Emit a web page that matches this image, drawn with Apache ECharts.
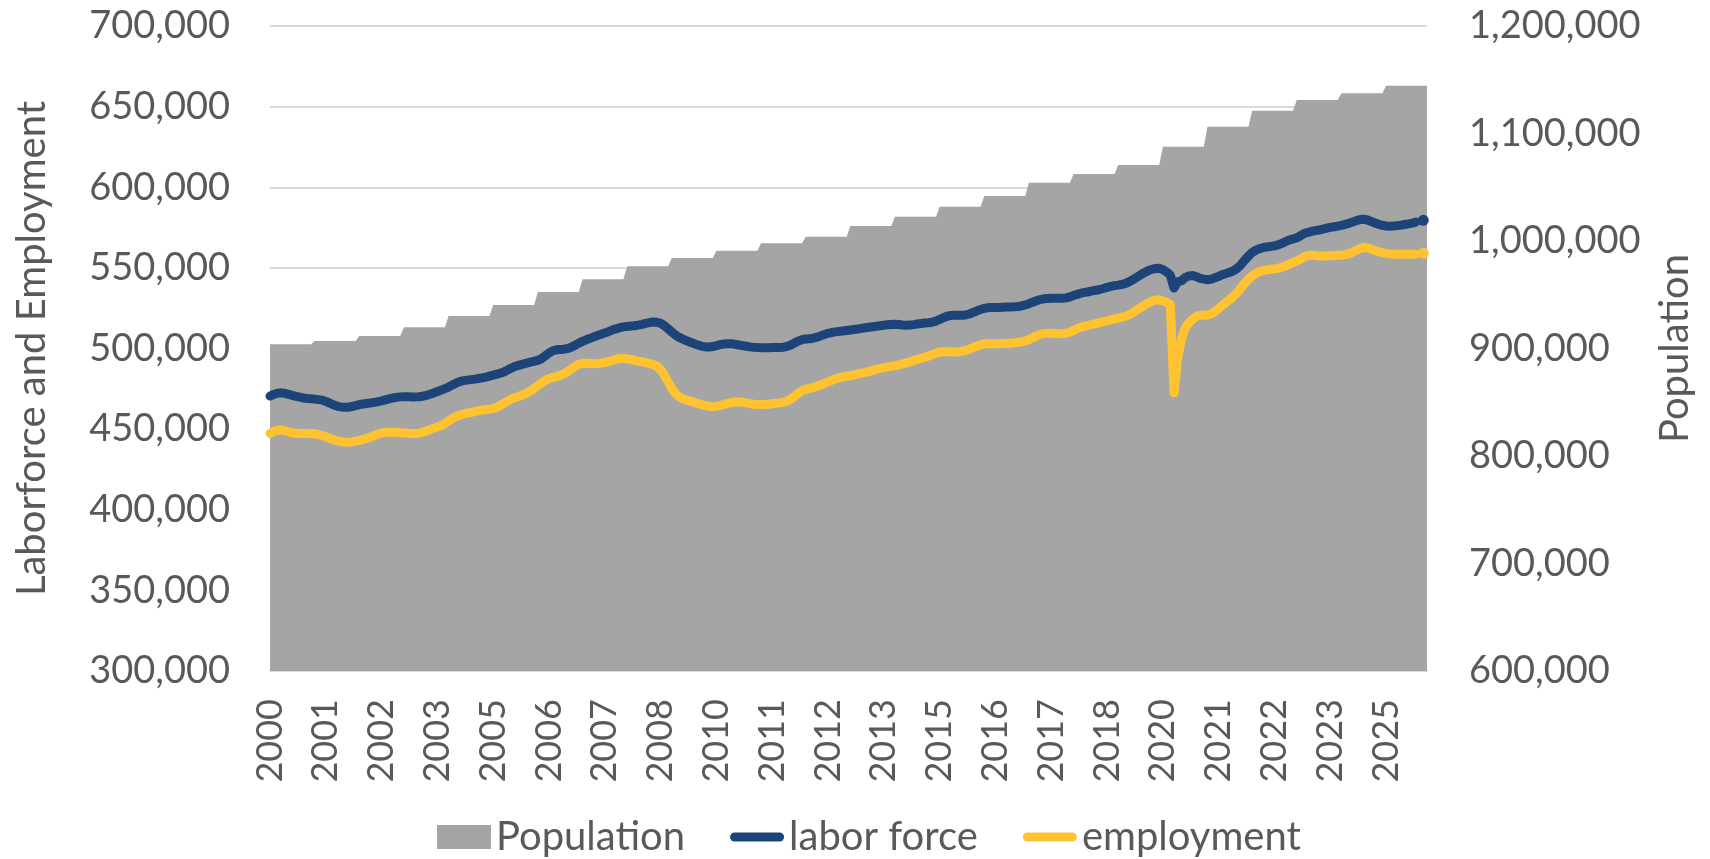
<!DOCTYPE html>
<html>
<head>
<meta charset="utf-8">
<title>Population, labor force and employment</title>
<script src="https://cdn.jsdelivr.net/npm/echarts@6/dist/echarts.min.js"></script>
<style>
  html, body { margin: 0; padding: 0; background: #ffffff; }
  #chart-container { width: 1710px; height: 859px; }
</style>
</head>
<body>
<div id="chart-container"></div>
<script>
// years on the axis, one category per month
var years = [2000, 2001, 2002, 2003, 2004, 2005, 2006, 2007, 2008, 2009, 2010, 2011, 2012,
  2013, 2014, 2015, 2016, 2017, 2018, 2019, 2020, 2021, 2022, 2023, 2024, 2025];

// annual population (right axis)
var populationByYear = [903900, 907000, 911600, 919700, 930200, 940500, 952600, 964400, 976500,
  984200, 991000, 997900, 1004000, 1014000, 1022600, 1031900, 1041900, 1054200, 1062300,
  1070700, 1087700, 1106300, 1121200, 1131200, 1137400, 1144500];

// monthly labor force, Jan 2000 - Dec 2025 (Oct 2025 missing)
var laborForce = [
  470500, 471500, 472300, 472500, 472200, 471600, 470900, 470300, 469800, 469300, 469000, 468800,
  468600, 468300, 468000, 467200, 466200, 465100, 464300, 463800, 463500, 463600, 464000, 464600,
  465200, 465600, 465900, 466200, 466600, 467000, 467500, 468100, 468700, 469300, 469700, 470000,
  470100, 470100, 470000, 470000, 470100, 470400, 470900, 471600, 472400, 473300, 474200, 475100,
  476100, 477300, 478500, 479500, 480100, 480400, 480700, 481000, 481400, 481800, 482300, 482900,
  483500, 484100, 484700, 485600, 486800, 488000, 489000, 489700, 490300, 490900, 491500, 492100,
  492600, 493700, 495400, 497200, 498600, 499200, 499400, 499600, 500000, 500800, 502000, 503300,
  504400, 505400, 506300, 507200, 508000, 508800, 509600, 510500, 511400, 512200, 512900, 513400,
  513700, 513900, 514100, 514500, 515000, 515600, 516100, 516400, 516300, 515600, 514200, 512300,
  510200, 508300, 506900, 505800, 504800, 503900, 503000, 502200, 501500, 501000, 500900, 501200,
  501800, 502400, 502800, 503000, 502900, 502600, 502200, 501800, 501400, 501000, 500700, 500600,
  500500, 500500, 500500, 500600, 500600, 500600, 500800, 501300, 502200, 503400, 504700, 505500,
  505900, 506100, 506400, 507000, 507800, 508700, 509400, 509900, 510300, 510600, 510900, 511200,
  511500, 511800, 512100, 512500, 512900, 513200, 513500, 513800, 514100, 514400, 514700, 514900,
  515000, 514900, 514600, 514400, 514500, 514800, 515200, 515500, 515800, 516000, 516300, 517000,
  518000, 519100, 520000, 520500, 520600, 520600, 520600, 520800, 521400, 522300, 523300, 524200,
  524900, 525300, 525500, 525500, 525500, 525600, 525700, 525800, 525900, 526100, 526400, 527000,
  527800, 528700, 529600, 530300, 530800, 531000, 531100, 531100, 531100, 531200, 531400, 532000,
  532800, 533600, 534300, 534800, 535200, 535700, 536100, 536600, 537200, 537900, 538500, 539000,
  539300, 539700, 540400, 541500, 542800, 544200, 545600, 547000, 548200, 549100, 549600, 549700,
  549000, 547500, 545500, 537500, 541500, 542000, 544000, 545000, 545300, 544500, 543500, 543000,
  542600, 543000, 543800, 544800, 545800, 546500, 547300, 548200, 549800, 552000, 554800, 557300,
  559500, 561000, 562000, 562600, 563000, 563300, 563700, 564300, 565200, 566300, 567300, 568000,
  568600, 570000, 571300, 572000, 572600, 573100, 573500, 574000, 574600, 575100, 575500, 575900,
  576400, 577000, 577600, 578400, 579300, 580000, 580200, 579700, 578800, 577800, 577000, 576400,
  576000, 575800, 575900, 576200, 576500, 576900, 577300, 577800, 578400, null, 579500, null
];

// monthly employment, Jan 2000 - Dec 2025 (Oct 2025 missing)
var employment = [
  447300, 448500, 449300, 449400, 449000, 448300, 447700, 447400, 447300, 447300, 447300, 447200,
  447100, 446700, 446000, 445200, 444300, 443500, 442800, 442300, 442000, 441900, 442100, 442500,
  443000, 443600, 444300, 445100, 446000, 446800, 447500, 447900, 448100, 448100, 448000, 447800,
  447600, 447400, 447300, 447300, 447500, 448000, 448800, 449700, 450600, 451400, 452300, 453500,
  455000, 456500, 457800, 458700, 459400, 459900, 460400, 460900, 461400, 461900, 462200, 462400,
  462800, 463600, 464800, 466200, 467600, 468800, 469600, 470400, 471300, 472400, 473700, 475200,
  476900, 478600, 480200, 481400, 482100, 482600, 483300, 484300, 485700, 487300, 488900, 490200,
  490800, 490900, 490700, 490600, 490700, 490900, 491300, 491900, 492600, 493300, 493800, 493800,
  493600, 493200, 492700, 492200, 491800, 491300, 490600, 490000, 489000, 486800, 483500, 479300,
  475300, 472000, 470000, 468800, 468000, 467300, 466600, 465900, 465200, 464600, 464100, 463900,
  464100, 464600, 465300, 466000, 466500, 466800, 466900, 466700, 466300, 465900, 465400, 465200,
  465100, 465200, 465400, 465700, 466000, 466300, 466700, 467400, 468600, 470300, 472200, 473800,
  474700, 475300, 475900, 476600, 477400, 478300, 479300, 480300, 481200, 481900, 482400, 482800,
  483200, 483700, 484200, 484700, 485200, 485800, 486400, 487000, 487600, 488200, 488600, 488900,
  489300, 489800, 490400, 491100, 491800, 492500, 493200, 493800, 494500, 495300, 496200, 497100,
  497700, 498000, 498000, 497900, 497900, 498000, 498300, 498800, 499600, 500600, 501600, 502400,
  502800, 503000, 503000, 503000, 503000, 503100, 503200, 503300, 503500, 503800, 504100, 504700,
  505600, 506700, 507800, 508700, 509300, 509400, 509400, 509300, 509200, 509300, 509500, 510200,
  511200, 512300, 513300, 513900, 514400, 514900, 515400, 516000, 516600, 517200, 517800, 518400,
  518900, 519400, 520100, 521000, 522300, 523900, 525400, 526800, 528100, 529300, 530100, 530200,
  529600, 528600, 527300, 472500, 494500, 506000, 512800, 516000, 518200, 519800, 520600, 520700,
  520800, 521500, 522900, 524800, 526800, 528600, 530400, 532400, 534800, 537600, 540400, 543000,
  545000, 546600, 547700, 548400, 548800, 549100, 549400, 549700, 550400, 551300, 552300, 553300,
  554200, 555500, 556800, 557700, 557800, 557600, 557400, 557300, 557400, 557500, 557600, 557800,
  557900, 558200, 558800, 559800, 561000, 562000, 562600, 562400, 561700, 560800, 560000, 559400,
  559000, 558700, 558500, 558500, 558500, 558500, 558500, 558500, 558500, null, 559000, null
];

var months = [];
years.forEach(function (y) {
  for (var m = 1; m <= 12; m++) {
    months.push(y + '-' + (m < 10 ? '0' : '') + m);
  }
});
var populationMonthly = months.map(function (m, i) {
  return populationByYear[Math.floor(i / 12)];
});

// a value with no neighbours gets a dot so it stays visible
function withDots(arr) {
  return arr.map(function (v, i) {
    var prev = i > 0 ? arr[i - 1] : null;
    var next = i < arr.length - 1 ? arr[i + 1] : null;
    if (v != null && prev == null && next == null) {
      return { value: v, symbol: 'circle', symbolSize: 11 };
    }
    return v;
  });
}

function thousands(v) {
  return String(v).replace(/\B(?=(\d{3})+(?!\d))/g, ',');
}

var font = 'Lato';
var textColor = '#595959';
var blue = '#1d4479';
var yellow = '#ffc331';
var barIcon = 'path://M0,0M54,24M4.5,7.5L49.5,7.5A4.5,4.5,0,0,1,49.5,16.5L4.5,16.5A4.5,4.5,0,0,1,4.5,7.5Z';

var dom = document.getElementById('chart-container');
var myChart = echarts.init(dom, null, { renderer: 'canvas' });
var option = {
  animation: false,
  grid: { left: 270, right: 283, top: 26, bottom: 188 },
  legend: {
    left: 432,
    top: 812,
    itemWidth: 54,
    itemHeight: 24,
    itemGap: 45,
    textStyle: { fontFamily: font, fontSize: 40, color: textColor },
    data: [
      { name: 'Population', icon: 'rect', itemStyle: { borderWidth: 0 } },
      { name: 'labor force', icon: barIcon, itemStyle: { borderWidth: 0 } },
      { name: 'employment', icon: barIcon, itemStyle: { borderWidth: 0 } }
    ]
  },
  xAxis: {
    type: 'category',
    data: months,
    boundaryGap: false,
    axisLine: { lineStyle: { color: '#d9d9d9', width: 2 } },
    axisTick: { show: false },
    axisLabel: {
      interval: 14,
      rotate: 90,
      margin: 28,
      fontFamily: font,
      fontSize: 36,
      color: textColor,
      formatter: function (v) { return v.slice(0, 4); }
    },
    splitLine: { show: false }
  },
  yAxis: [
    {
      type: 'value',
      position: 'left',
      min: 300000,
      max: 700000,
      interval: 50000,
      name: 'Laborforce and Employment',
      nameLocation: 'middle',
      nameGap: 218,
      nameTextStyle: { fontFamily: font, fontSize: 40, color: textColor },
      axisLine: { show: false },
      axisTick: { show: false },
      axisLabel: { margin: 40, fontFamily: font, fontSize: 38, color: textColor, formatter: thousands },
      splitLine: { lineStyle: { color: '#d9d9d9', width: 2 } }
    },
    {
      type: 'value',
      position: 'right',
      min: 600000,
      max: 1200000,
      interval: 100000,
      name: 'Population',
      nameLocation: 'middle',
      nameGap: 228,
      nameTextStyle: { fontFamily: font, fontSize: 40, color: textColor },
      axisLine: { show: false },
      axisTick: { show: false },
      axisLabel: { margin: 42, fontFamily: font, fontSize: 38, color: textColor, formatter: thousands },
      splitLine: { show: false }
    }
  ],
  series: [
    {
      name: 'Population',
      type: 'line',
      yAxisIndex: 1,
      data: populationMonthly,
      symbol: 'none',
      lineStyle: { width: 0 },
      itemStyle: { color: '#a5a5a5' },
      areaStyle: { color: '#a5a5a5', opacity: 1, origin: 'start' },
      emphasis: { disabled: true },
      z: 1
    },
    {
      name: 'labor force',
      type: 'line',
      yAxisIndex: 0,
      data: withDots(laborForce),
      symbol: 'none',
      showSymbol: true,
      showAllSymbol: true,
      connectNulls: false,
      lineStyle: { color: blue, width: 9, cap: 'round', join: 'round' },
      itemStyle: { color: blue },
      emphasis: { disabled: true },
      z: 3
    },
    {
      name: 'employment',
      type: 'line',
      yAxisIndex: 0,
      data: withDots(employment),
      symbol: 'none',
      showSymbol: true,
      showAllSymbol: true,
      connectNulls: false,
      lineStyle: { color: yellow, width: 9, cap: 'round', join: 'round' },
      itemStyle: { color: yellow },
      emphasis: { disabled: true },
      z: 4
    }
  ]
};

myChart.setOption(option);
window.addEventListener('resize', myChart.resize);
</script>
</body>
</html>
